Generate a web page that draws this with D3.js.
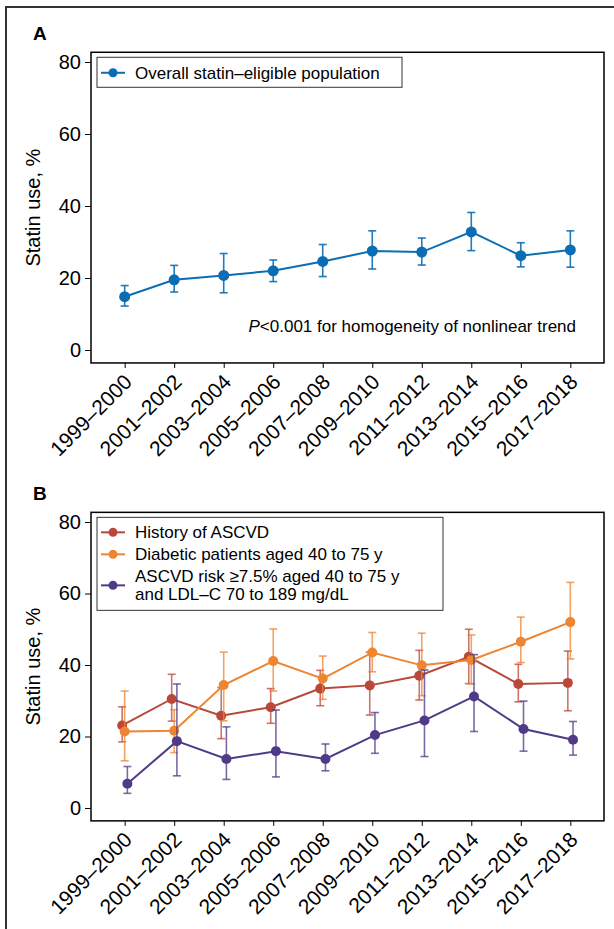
<!DOCTYPE html>
<meta charset="utf-8">
<style>
  body { margin: 0; background: #fff; }
  svg { display: block; }
  text { font-family: "Liberation Sans", Arial, Helvetica, sans-serif; fill: #000; }
</style>
<svg width="614" height="929"></svg>
<script src="https://d3js.org/d3.v7.min.js"></script>
<script>
  var periods = ["1999–2000", "2001–2002", "2003–2004", "2005–2006", "2007–2008",
                 "2009–2010", "2011–2012", "2013–2014", "2015–2016", "2017–2018"];
  var yTicks = [0, 20, 40, 60, 80];

  // panel A
  var overall   = [14.8, 19.5, 20.7, 22.0, 24.6, 27.5, 27.2, 32.8, 26.2, 27.8];
  var overallLo = [12.2, 16.1, 15.9, 19.0, 20.4, 22.5, 23.6, 27.6, 23.1, 23.0];
  var overallHi = [17.9, 23.5, 26.8, 25.0, 29.3, 33.1, 31.1, 38.2, 29.8, 33.1];

  // panel B
  var ascvd   = [23.1, 30.5, 25.8, 28.2, 33.4, 34.3, 37.0, 42.3, 34.7, 35.0];
  var ascvdLo = [18.5, 24.3, 19.4, 23.7, 28.6, 26.0, 30.2, 34.8, 29.7, 27.2];
  var ascvdHi = [28.3, 37.4, 33.7, 33.4, 38.5, 43.6, 44.1, 50.0, 40.2, 43.9];

  var diabetic   = [21.4, 21.6, 34.4, 41.1, 36.2, 43.5, 39.9, 41.4, 46.5, 52.0];
  var diabeticLo = [13.2, 15.5, 24.4, 32.7, 30.4, 38.1, 31.4, 34.7, 40.7, 41.7];
  var diabeticHi = [32.7, 27.5, 43.6, 50.1, 42.5, 49.1, 48.9, 48.4, 53.4, 63.1];

  var risk   = [6.8, 18.7, 13.7, 15.9, 13.7, 20.4, 24.5, 31.2, 22.1, 19.1];
  var riskLo = [4.1, 9.0, 8.0, 8.7, 10.4, 15.3, 14.4, 21.4, 15.9, 14.8];
  var riskHi = [11.6, 34.7, 22.7, 27.4, 17.9, 26.7, 38.6, 42.9, 29.9, 24.2];

  var svg = d3.select("svg");

  // outer frame (runs off the right/bottom of the page)
  svg.append("rect")
    .attr("x", 6).attr("y", 7).attr("width", 640).attr("height", 960)
    .attr("fill", "none").attr("stroke", "#333").attr("stroke-width", 2);

  var x = d3.scalePoint().domain(periods).range([91, 604]).padding(0.68);

  function panel(opt) {
    var g = svg.append("g");
    var y = d3.scaleLinear().domain([0, 80]).range([opt.y0, opt.y80]);
    var top = y(82.7), bottom = y(-3.6);

    g.append("text")
      .attr("x", 33).attr("y", opt.y80 - 22)
      .style("font-weight", "bold").style("font-size", "19px")
      .text(opt.label);

    // y axis
    var ya = g.append("g").attr("transform", "translate(91,0)")
      .call(d3.axisLeft(y).tickValues(yTicks).tickSize(6).tickPadding(4));
    ya.select(".domain").remove();
    ya.selectAll("text").style("font-size", "20px").style("font-family", null);
    ya.selectAll("line").attr("stroke", "#000");

    g.append("text")
      .attr("transform", "translate(40," + ((top + bottom) / 2) + ") rotate(-90)")
      .attr("text-anchor", "middle")
      .style("font-size", "20px")
      .text("Statin use, %");

    // x axis
    var xa = g.append("g").attr("transform", "translate(0," + bottom + ")")
      .call(d3.axisBottom(x).tickSize(5));
    xa.select(".domain").remove();
    xa.selectAll("text")
      .style("font-size", "21px").style("font-family", null)
      .attr("text-anchor", "end")
      .attr("x", 0).attr("y", 0).attr("dy", "0.35em")
      .attr("transform", "translate(3,15) rotate(-45)");

    // plot box
    g.append("rect")
      .attr("x", 91).attr("y", top).attr("width", 604 - 91).attr("height", bottom - top)
      .attr("fill", "none").attr("stroke", "#000").attr("stroke-width", 1.5);

    // series
    opt.series.forEach(function (s) {
      var pts = periods.map(function (p, i) {
        return { p: p, v: s.values[i], lo: s.lo[i], hi: s.hi[i] };
      });
      var sg = g.append("g").attr("transform", "translate(" + s.dx + ",0)");
      var eb = sg.append("g")
        .attr("stroke", s.color).attr("stroke-width", 1.6)
        .attr("stroke-opacity", s.ciOpacity).attr("fill", "none");
      pts.forEach(function (d) {
        var cx = x(d.p);
        eb.append("line").attr("x1", cx).attr("x2", cx).attr("y1", y(d.lo)).attr("y2", y(d.hi));
        eb.append("line").attr("x1", cx - 4).attr("x2", cx + 4).attr("y1", y(d.lo)).attr("y2", y(d.lo));
        eb.append("line").attr("x1", cx - 4).attr("x2", cx + 4).attr("y1", y(d.hi)).attr("y2", y(d.hi));
      });
      sg.append("path").datum(pts)
        .attr("fill", "none").attr("stroke", s.color).attr("stroke-width", 2)
        .attr("d", d3.line().x(function (d) { return x(d.p); }).y(function (d) { return y(d.v); }));
      sg.selectAll("circle").data(pts).enter().append("circle")
        .attr("cx", function (d) { return x(d.p); })
        .attr("cy", function (d) { return y(d.v); })
        .attr("r", s.r).attr("fill", s.color);
    });

    // legend
    var lg = g.append("g");
    lg.append("rect")
      .attr("x", 97).attr("y", top + 5).attr("width", opt.legendW).attr("height", opt.legendH)
      .attr("fill", "#fff").attr("stroke", "#333").attr("stroke-width", 1);
    opt.series.forEach(function (s, i) {
      var ly = top + opt.legendRows[i];
      lg.append("line").attr("x1", 101).attr("x2", 125).attr("y1", ly).attr("y2", ly)
        .attr("stroke", s.color).attr("stroke-width", 2);
      lg.append("circle").attr("cx", 113).attr("cy", ly).attr("r", 4.5).attr("fill", s.color);
      // one text per line so wrapped entries stay separate
      var lines = s.name.split("\n");
      lines.forEach(function (ln, j) {
        lg.append("text").attr("x", 135)
          .attr("y", ly + (j - (lines.length - 1) / 2) * 18)
          .attr("dy", "0.35em").style("font-size", "17px").text(ln);
      });
    });
    return { g: g, y: y, top: top, bottom: bottom };
  }

  var a = panel({
    label: "A", y0: 350, y80: 62, legendW: 305, legendH: 30, legendRows: [20.5],
    series: [
      { name: "Overall statin\u2013eligible population", values: overall, lo: overallLo, hi: overallHi,
        color: "#0b6db3", r: 5.5, dx: 0, ciOpacity: 0.9 }
    ]
  });

  a.g.append("text")
    .attr("x", 576).attr("y", 326).attr("dy", "0.35em")
    .attr("text-anchor", "end").style("font-size", "17px")
    .html("<tspan font-style='italic'>P</tspan>&lt;0.001 for homogeneity of nonlinear trend");

  panel({
    label: "B", y0: 808, y80: 522, legendW: 346, legendH: 93, legendRows: [20, 42, 73],
    series: [
      { name: "History of ASCVD", values: ascvd, lo: ascvdLo, hi: ascvdHi,
        color: "#b9473a", r: 5, dx: -2.5, ciOpacity: 0.75 },
      { name: "Diabetic patients aged 40 to 75 y", values: diabetic, lo: diabeticLo, hi: diabeticHi,
        color: "#ee8531", r: 5, dx: 0, ciOpacity: 0.75 },
      { name: "ASCVD risk \u22657.5% aged 40 to 75 y\nand LDL\u2013C 70 to 189 mg/dL", values: risk, lo: riskLo, hi: riskHi,
        color: "#4e3a86", r: 5, dx: 2.7, ciOpacity: 0.75 }
    ]
  });
</script>
